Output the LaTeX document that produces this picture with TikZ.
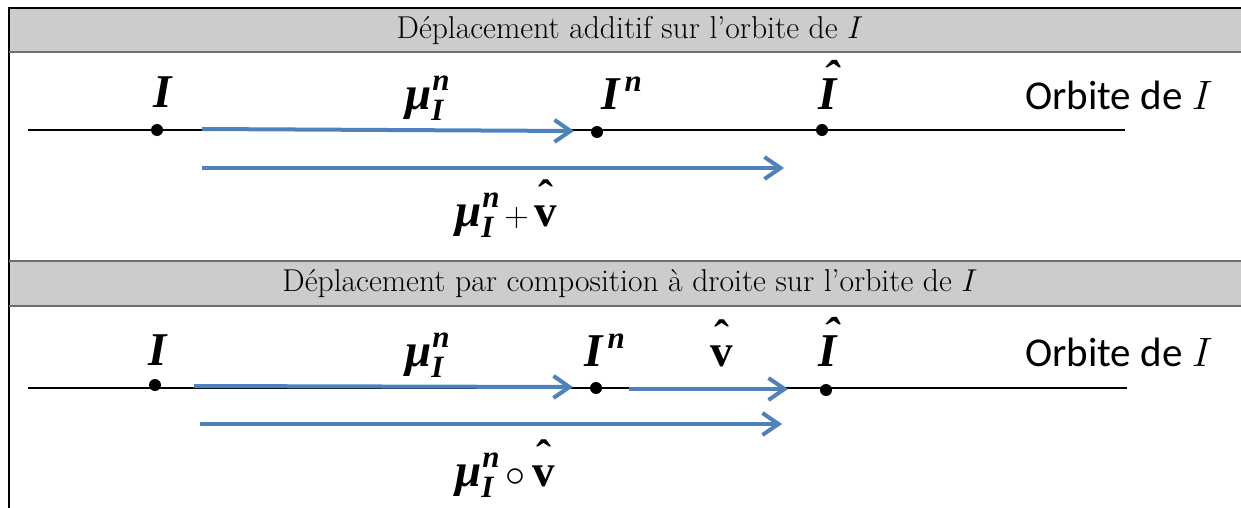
\documentclass[tikz,border=0pt]{standalone}
\usepackage{fix-cm}
\usepackage{fontspec}
\usetikzlibrary{arrows.meta}
\newfontfamily\tmsfont{Liberation Serif}
\newfontfamily\orbfont{Carlito}
\definecolor{arrowblue}{HTML}{4F81BD}
\definecolor{bandgray}{HTML}{CCCCCC}
\definecolor{rulegray}{HTML}{6E6E6E}

% bold italic / bold upright Times-like symbols
\newcommand\bigbi[1]{{\fontsize{47}{47}\selectfont\tmsfont\bfseries\itshape #1}}
\newcommand\smallbi[1]{{\fontsize{31}{31}\selectfont\tmsfont\bfseries\itshape #1}}
\newcommand\bigbu[1]{{\fontsize{45}{45}\selectfont\tmsfont\bfseries #1}}
\newcommand\muIn{\bigbi{μ}\rlap{\hspace{1pt}\raisebox{19pt}{\smallbi{n}}}\raisebox{-11pt}{\smallbi{I}}}
\newcommand\vhat{\ooalign{\hfil\bigbu{v}\hfil\cr\hfil\raisebox{15pt}{\bigbu{ˆ}}\hfil\cr}}
\newcommand\Ihat{\ooalign{\hfil\bigbi{I}\hfil\cr\hfil\hspace{6pt}\raisebox{16pt}{\bigbi{ˆ}}\hfil\cr}}
\newcommand\Inn{\bigbi{I}\hspace{5pt}\raisebox{18pt}{\smallbi{n}}}

\begin{document}
\begin{tikzpicture}[x=1pt,y=-1pt,
  band/.style={fill=bandgray,draw=none},
  bandtitle/.style={font=\fontsize{31.6}{36}\selectfont,inner sep=0pt},
  orbit/.style={line width=2pt,black},
  pt/.style={circle,fill=black,inner sep=0pt,minimum size=12pt},
  vec/.style={line width=4pt,arrowblue,-{Straight Barb[length=16pt,width=22pt,line width=4pt]}},
  lbl/.style={inner sep=0pt,anchor=base},
  orblbl/.style={inner sep=0pt,anchor=base west,font=\fontsize{41}{41}\selectfont\orbfont}]
\useasboundingbox (0,0) rectangle (1241,508);

% header bands
\fill[band] (9,8) rectangle (1241,52);
\fill[band] (9,261) rectangle (1241,306);
\draw[line width=2pt,black] (1241,8) -- (9,8) -- (9,508);
\draw[line width=2pt,rulegray] (9,52) -- (1241,52);
\draw[line width=2pt,rulegray] (9,261) -- (1241,261);
\draw[line width=2pt,rulegray] (9,306) -- (1241,306);
\node[bandtitle] (t1) at (630,30) {Déplacement additif sur l'orbite de $I$};
\node[bandtitle] (t2) at (630,284) {Déplacement par composition à droite sur l'orbite de $I$};

% ---- additive displacement ----
\coordinate (o1s) at (28,130);
\coordinate (o1e) at (1125,130);
\draw[orbit] (o1s) -- (o1e);
\node[pt] (p1) at (157,130) {};
\node[pt] (p2) at (597,132) {};
\node[pt] (p3) at (822,130) {};
\node[lbl] (l1) at (163,108) {\bigbi{I}};
\node[lbl,anchor=base west] (l2) at (601,110) {\Inn};
\node[lbl] (l3) at (828,110) {\Ihat};
\node[lbl,anchor=base west] (l4) at (405,110) {\muIn};
\node[orblbl] (l5) at (1025,110) {Orbite de $I$};
\coordinate (a1s) at (202,129);
\coordinate (a1e) at (574,131);
\coordinate (b1s) at (202,168);
\coordinate (b1e) at (784,168);
\draw[vec] (a1s) -- (a1e);
\draw[vec] (b1s) -- (b1e);
\node[lbl,anchor=base west] (l6) at (455,226) {\muIn\hspace{11pt}{\fontsize{34}{34}\selectfont$+$}\hspace{6pt}\vhat};

% ---- right composition ----
\coordinate (o2s) at (28,388);
\coordinate (o2e) at (1127,388);
\draw[orbit] (o2s) -- (o2e);
\node[pt] (q1) at (155,385) {};
\node[pt] (q2) at (596,388) {};
\node[pt] (q3) at (826,390) {};
\node[lbl] (m1) at (158,365) {\bigbi{I}};
\node[lbl,anchor=base west] (m2) at (584,366) {\Inn};
\node[lbl] (m3) at (722,366) {\vhat};
\node[lbl] (m4) at (828,366) {\Ihat};
\node[lbl,anchor=base west] (m5) at (405,366) {\muIn};
\node[orblbl] (m6) at (1025,366) {Orbite de $I$};
\coordinate (c1s) at (194,386);
\coordinate (c1e) at (573,387);
\coordinate (c2s) at (629,389);
\coordinate (c2e) at (788,389);
\coordinate (c3s) at (200,424);
\coordinate (c3e) at (782,424);
\draw[vec] (c1s) -- (c1e);
\draw[vec] (c2s) -- (c2e);
\draw[vec] (c3s) -- (c3e);
\node[lbl,anchor=base west] (m7) at (455,486) {\muIn\hspace{12pt}{\fontsize{40}{40}\selectfont$\circ$}\hspace{7pt}\vhat};
\end{tikzpicture}
\end{document}
